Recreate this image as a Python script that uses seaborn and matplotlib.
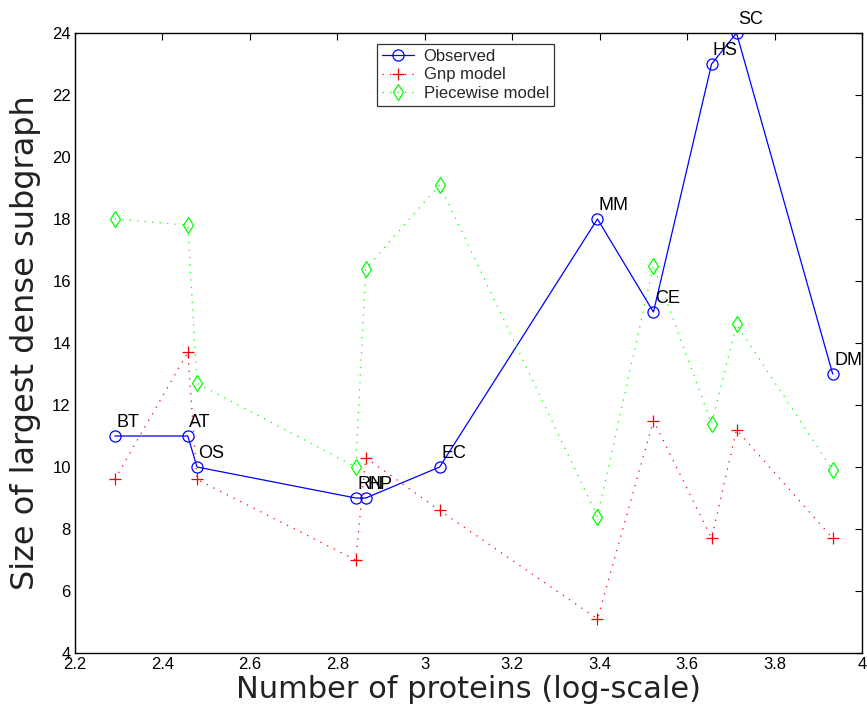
import matplotlib
matplotlib.use("Agg")
import matplotlib.pyplot as plt
import seaborn as sns

# organism codes and log10 of protein counts
organisms = ["BT", "AT", "OS", "RN", "HP", "EC", "MM", "CE", "HS", "SC", "DM"]
log_proteins = [2.291, 2.458, 2.479, 2.842, 2.865, 3.034, 3.395, 3.523, 3.656, 3.713, 3.933]

# size of the largest dense subgraph
observed = [11, 11, 10, 9, 9, 10, 18, 15, 23, 24, 13]
gnp_model = [9.6, 13.7, 9.6, 7.0, 10.3, 8.6, 5.1, 11.5, 7.7, 11.2, 7.7]
piecewise_model = [18.0, 17.8, 12.7, 10.0, 16.4, 19.1, 8.4, 16.5, 11.4, 14.6, 9.9]

x_ticks = [2.2, 2.4, 2.6, 2.8, 3.0, 3.2, 3.4, 3.6, 3.8, 4.0]
x_tick_labels = ["2.2", "2.4", "2.6", "2.8", "3", "3.2", "3.4", "3.6", "3.8", "4"]
y_ticks = [4, 6, 8, 10, 12, 14, 16, 18, 20, 22, 24]

sns.set_style("white")
plt.rcParams["font.family"] = ["Liberation Sans", "DejaVu Sans"]

fig = plt.figure(figsize=(8.67, 7.14), dpi=100)
ax = fig.add_axes([75 / 867, 1 - 653 / 714, 787 / 867, 620 / 714])

dotted = (0, (1, 5))

# observed: solid blue with open circles
sns.lineplot(x=log_proteins, y=observed, ax=ax, sort=False, color="#0000ff",
             linewidth=0.9, marker="o", markersize=8, markerfacecolor="none",
             markeredgecolor="#0000ff", markeredgewidth=0.9, label="Observed")
# Gnp model: dotted red with plus markers
sns.lineplot(x=log_proteins, y=gnp_model, ax=ax, sort=False, color="#ff0000",
             linewidth=0.9, linestyle=dotted, marker="+", markersize=8,
             markeredgecolor="#ff0000", markeredgewidth=0.9, label="Gnp model")
# piecewise model: dotted green with diamonds
sns.lineplot(x=log_proteins, y=piecewise_model, ax=ax, sort=False, color="#00ff00",
             linewidth=0.9, linestyle=dotted, marker="d", markersize=8,
             markerfacecolor="none", markeredgecolor="#00ff00",
             markeredgewidth=0.9, label="Piecewise model")

for name, xv, yv in zip(organisms, log_proteins, observed):
    ax.annotate(name, (xv, yv), xytext=(1, 6.5), textcoords="offset points",
                fontsize=13, va="baseline", ha="left", color="black",
                annotation_clip=False)

ax.set_xlim(2.2, 4.0)
ax.set_ylim(4, 24)
ax.set_xticks(x_ticks)
ax.set_xticklabels(x_tick_labels)
ax.set_yticks(y_ticks)
ax.tick_params(direction="in", length=5, width=0.8, labelsize=12,
               top=True, right=True, pad=3, colors="black")
for sp in ax.spines.values():
    sp.set_color("black")
    sp.set_linewidth(1.0)

ax.set_xlabel("Number of proteins (log-scale)", fontsize=22, labelpad=2,
              color="#222222", family="DejaVu Sans")
ax.set_ylabel("Size of largest dense subgraph", fontsize=23, labelpad=8,
              color="#222222", family="DejaVu Sans")

leg = ax.legend(loc="upper left", bbox_to_anchor=(377 / 867, 1 - 44 / 714),
                bbox_transform=fig.transFigure, borderaxespad=0, fontsize=12,
                frameon=True, fancybox=False, handlelength=1.9,
                borderpad=0.3, labelspacing=0.2, handletextpad=0.6)
leg.get_frame().set_edgecolor("black")
leg.get_frame().set_linewidth(0.9)

fig.savefig("out.png", dpi=100)
